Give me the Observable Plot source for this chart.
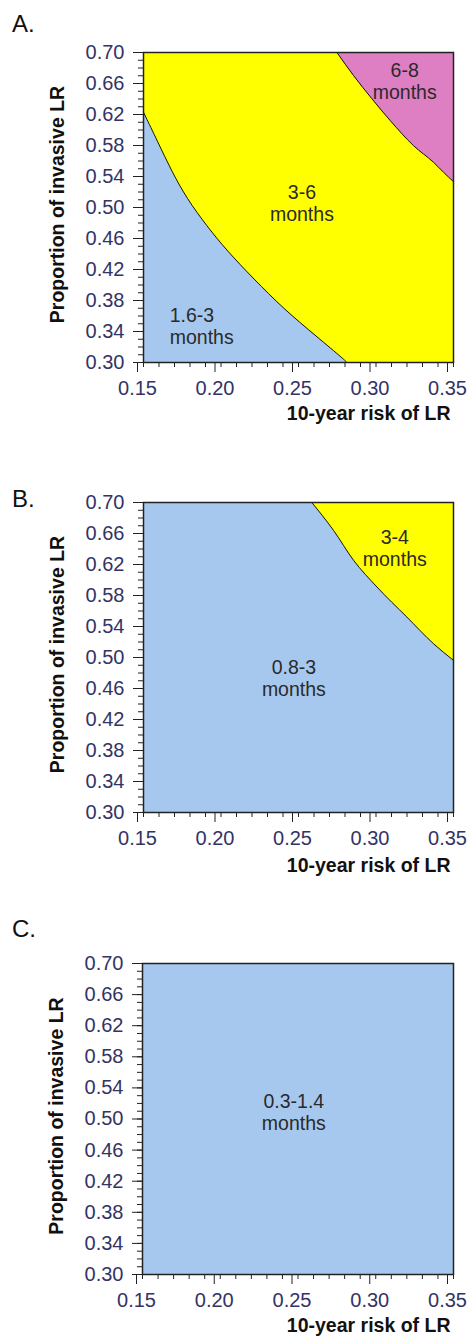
<!DOCTYPE html>
<html><head><meta charset="utf-8">
<script src="https://cdn.jsdelivr.net/npm/d3@7"></script>
<script src="https://cdn.jsdelivr.net/npm/@observablehq/plot@0.6"></script>
<style>
body{margin:0;background:#fff;font-family:Arial,"Liberation Sans",sans-serif;}
.panel{position:relative;width:469px;}
.letter{position:absolute;left:12px;font-size:24px;line-height:1;color:#111;}
svg{display:block;}
</style></head><body>
<div id="charts"></div>
<script>
// axis ticks
const xTicks = [0.15, 0.20, 0.25, 0.30, 0.35];
const yTicks = [0.30, 0.34, 0.38, 0.42, 0.46, 0.50, 0.54, 0.58, 0.62, 0.66, 0.70];
const xDomain = [0.15, 0.35];
const yDomain = [0.30, 0.70];
const xTitle = "10-year risk of LR";
const yTitle = "Proportion of invasive LR";

// Panel A boundaries
const aLowX = [0.150, 0.1592, 0.1683, 0.1780, 0.1909, 0.2038, 0.2210, 0.2403, 0.2619, 0.2801, 0.2812];
const aLowY = [0.6229, 0.5847, 0.5463, 0.5114, 0.4759, 0.4443, 0.4081, 0.3694, 0.3332, 0.3028, 0.300];
const aHighX = [0.2748, 0.2855, 0.2974, 0.3092, 0.3242, 0.3371, 0.3436, 0.350];
const aHighY = [0.700, 0.6703, 0.6402, 0.6121, 0.5798, 0.5583, 0.5454, 0.5333];
// Panel B boundary
const bX = [0.2586, 0.2726, 0.2855, 0.3006, 0.3199, 0.3371, 0.350];
const bY = [0.700, 0.664, 0.6255, 0.591, 0.5522, 0.5178, 0.4963];

const letters = ["A.", "B.", "C."];
const labelsA = [
  {text: "6-8\nmonths", x: 0.3185, y: 0.6635, anchor: "middle"},
  {text: "3-6\nmonths", x: 0.2522, y: 0.5056, anchor: "middle"},
  {text: "1.6-3\nmonths", x: 0.1669, y: 0.3473, anchor: "start"}
];
const labelsB = [
  {text: "3-4\nmonths", x: 0.3121, y: 0.641, anchor: "middle"},
  {text: "0.8-3\nmonths", x: 0.247, y: 0.4736, anchor: "middle"}
];
const labelsC = [
  {text: "0.3-1.4\nmonths", x: 0.2473, y: 0.5094, anchor: "middle"}
];

const BLUE = "#A7C8EE", YELLOW = "#FFFF00", PINK = "#DE7EC3";
const TICKCOL = "#333366", LINECOL = "#222";
const LABEL_FS = 19.5, TICK_FS = 20, TITLE_FS = 19.5;

const toRows = (xs, ys) => xs.map((x, i) => ({x, y: ys[i], lo: yDomain[0], hi: yDomain[1]}));
const minorX = d3.range(15, 36).map(d => d / 100);
const minorY = d3.range(30, 71).map(d => d / 100);

function panel({letter, letterTop, bg, areas, lines, labels, marginTop, marginBottom, marginLeft, height, xTitleDy}) {
  const div = document.createElement("div");
  div.className = "panel";
  const marks = [
    Plot.frame({fill: bg}),
    ...areas,
    ...lines.map(([rows, curve]) => Plot.line(rows, {x: "x", y: "y", stroke: "#111", strokeWidth: 1, curve})),
    Plot.text(labels.filter(d => d.anchor === "middle"), {x: "x", y: "y", text: "text", textAnchor: "middle", lineAnchor: "middle", fontSize: LABEL_FS, fill: "#2a2a2a", lineHeight: 1.13}),
    Plot.text(labels.filter(d => d.anchor === "start"), {x: "x", y: "y", text: "text", textAnchor: "start", lineAnchor: "middle", fontSize: LABEL_FS, fill: "#2a2a2a", lineHeight: 1.13}),
    Plot.frame({stroke: LINECOL, strokeWidth: 1.5}),
    Plot.axisY(minorY, {tickSize: 5, tickFormat: () => "", stroke: LINECOL, label: null}),
    Plot.axisX(minorX, {tickSize: 5, tickFormat: () => "", stroke: LINECOL, label: null}),
    Plot.axisY(yTicks, {tickSize: 10, tickPadding: 9, tickFormat: d => d.toFixed(2), fontSize: TICK_FS, fill: TICKCOL, stroke: LINECOL, label: null}),
    Plot.axisX(xTicks, {tickSize: 10, tickPadding: 8, dx: -6, tickFormat: d => d.toFixed(2), fontSize: TICK_FS, fill: TICKCOL, stroke: LINECOL, label: null}),
    Plot.text([yTitle], {frameAnchor: "left", rotate: -90, dx: -86, dy: -3, fontSize: TITLE_FS, fontWeight: "bold", fill: "#111", textAnchor: "middle", lineAnchor: "middle"}),
    Plot.text([xTitle], {frameAnchor: "bottom-right", dx: -3, dy: xTitleDy, fontSize: TITLE_FS, fontWeight: "bold", fill: "#111", textAnchor: "end", lineAnchor: "middle"})
  ];
  const svg = Plot.plot({
    width: 469, height, marginTop, marginBottom, marginLeft, marginRight: 16,
    style: {fontFamily: "Arial, 'Liberation Sans', sans-serif", background: "white", overflow: "visible"},
    x: {domain: xDomain, axis: null},
    y: {domain: yDomain, axis: null},
    marks
  });
  div.appendChild(svg);
  const l = document.createElement("div");
  l.className = "letter";
  l.style.top = letterTop + "px";
  l.textContent = letter;
  div.appendChild(l);
  document.getElementById("charts").appendChild(div);
}

const aLow = toRows(aLowX, aLowY), aHigh = toRows(aHighX, aHighY), bRows = toRows(bX, bY);

panel({
  letter: letters[0], letterTop: 12, bg: YELLOW, height: 440, marginTop: 52, marginBottom: 78, marginLeft: 143, xTitleDy: 51,
  areas: [
    Plot.areaY(aLow, {x: "x", y1: "lo", y2: "y", fill: BLUE, curve: "basis"}),
    Plot.areaY(aHigh, {x: "x", y1: "y", y2: "hi", fill: PINK, curve: "monotone-x"})
  ],
  lines: [[aLow, "basis"], [aHigh, "monotone-x"]], labels: labelsA
});
panel({
  letter: letters[1], letterTop: 47, bg: BLUE, height: 450, marginTop: 62, marginBottom: 78, marginLeft: 143, xTitleDy: 53,
  areas: [Plot.areaY(bRows, {x: "x", y1: "y", y2: "hi", fill: YELLOW, curve: "monotone-x"})],
  lines: [[bRows, "monotone-x"]], labels: labelsB
});
panel({
  letter: letters[2], letterTop: 27, bg: BLUE, height: 447, marginTop: 73, marginBottom: 63, marginLeft: 142, xTitleDy: 51,
  areas: [], lines: [], labels: labelsC
});
</script>
</body></html>
